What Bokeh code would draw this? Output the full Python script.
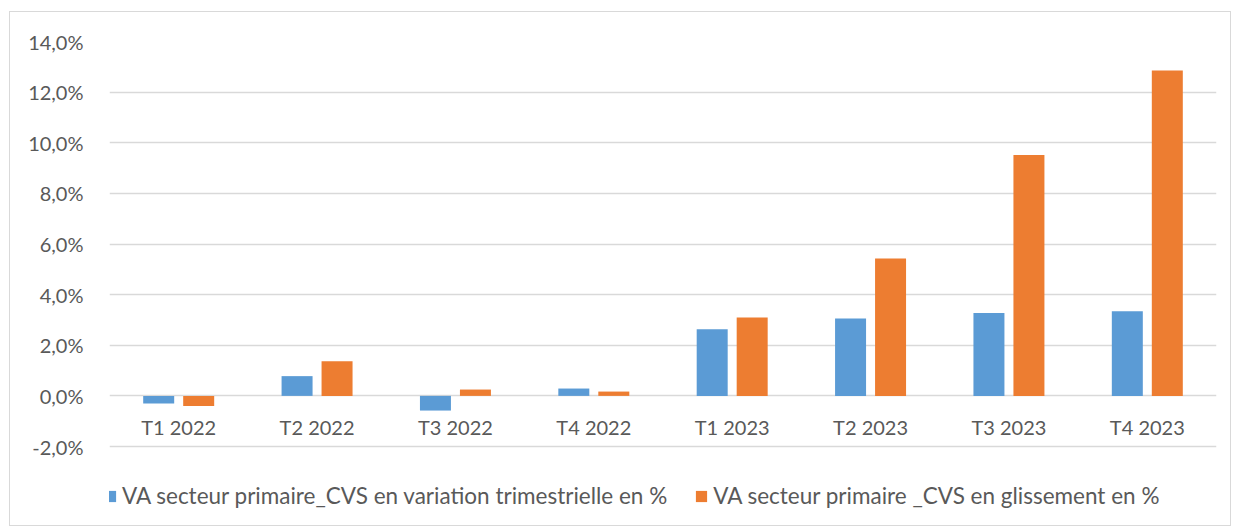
from bokeh.plotting import figure
from bokeh.models import ColumnDataSource, Range1d, FixedTicker, Legend, LegendItem
from bokeh.transform import dodge
from bokeh.core.properties import value
from bokeh.embed import file_html
from bokeh.resources import INLINE

quarters = ["T1 2022", "T2 2022", "T3 2022", "T4 2022",
            "T1 2023", "T2 2023", "T3 2023", "T4 2023"]
variation = [-0.30, 0.78, -0.58, 0.29, 2.63, 3.06, 3.27, 3.34]
glissement = [-0.40, 1.37, 0.25, 0.17, 3.10, 5.43, 9.52, 12.85]
y_ticks = [-2, 0, 2, 4, 6, 8, 10, 12, 14]
y_tick_labels = ["-2,0%", "0,0%", "2,0%", "4,0%", "6,0%", "8,0%", "10,0%", "12,0%", "14,0%"]
series_names = ["VA secteur primaire_CVS en variation trimestrielle en %",
                "VA secteur primaire _CVS en glissement en %"]

BLUE = "#5B9BD5"
ORANGE = "#ED7D31"
GRID = "#D9D9D9"
TXT = "#595959"
FONT = "Lato"

# layout (pixels)
W, H = 1222, 515
TOP, LEFT, RIGHT = 29, 99, 16
AXIS_PX = 405            # pixel span of the -2% .. 14% axis
frame_h = H - TOP
y_lo, y_hi = y_ticks[0], y_ticks[-1]
y_min = y_hi - (y_hi - y_lo) * frame_h / AXIS_PX   # extra room below for the legend

src = ColumnDataSource(dict(q=quarters, v=variation, g=glissement, zero=[0] * len(quarters)))

p = figure(x_range=quarters, y_range=Range1d(y_min, y_hi),
           width=W, height=H,
           min_border_left=LEFT, min_border_right=RIGHT, min_border_top=TOP, min_border_bottom=0,
           output_backend="svg", toolbar_location=None,
           x_axis_location=None, tools="")
p.margin = (11, 0, 0, 9)
p.styles = {"border": "1px solid #D9D9D9"}
p.outline_line_color = None
p.background_fill_color = "white"
p.border_fill_color = "white"

r1 = p.vbar(x=dodge("q", -0.1445, range=p.x_range), top="v", bottom=0, width=0.224,
            source=src, fill_color=BLUE, line_color=None)
r2 = p.vbar(x=dodge("q", 0.1445, range=p.x_range), top="g", bottom=0, width=0.224,
            source=src, fill_color=ORANGE, line_color=None)

p.text(x="q", y="zero", text="q", source=src, y_offset=31,
       text_align="center", text_baseline="middle",
       text_font=value(FONT), text_font_size="20px", text_color=TXT)

p.yaxis.ticker = FixedTicker(ticks=y_ticks)
p.yaxis.major_label_overrides = {t: l for t, l in zip(y_ticks, y_tick_labels)}
p.yaxis.axis_line_color = None
p.yaxis.major_tick_line_color = None
p.yaxis.minor_tick_line_color = None
p.yaxis.major_label_standoff = 20
p.yaxis.major_label_text_font = FONT
p.yaxis.major_label_text_font_size = "20px"
p.yaxis.major_label_text_color = TXT

p.ygrid.grid_line_color = GRID
p.ygrid.grid_line_width = 1.5
p.xgrid.grid_line_color = None

legend = Legend(items=[LegendItem(label=series_names[0], renderers=[r1]),
                       LegendItem(label=series_names[1], renderers=[r2])],
                orientation="horizontal", location=(-6, 18),
                glyph_width=14, glyph_height=14, label_standoff=5, spacing=27,
                padding=0, margin=0, label_height=20,
                label_text_font=FONT, label_text_font_size="22.5px", label_text_color=TXT,
                border_line_color=None, background_fill_alpha=0)
p.add_layout(legend, "center")

open("out.html", "w").write(file_html(p, INLINE))
